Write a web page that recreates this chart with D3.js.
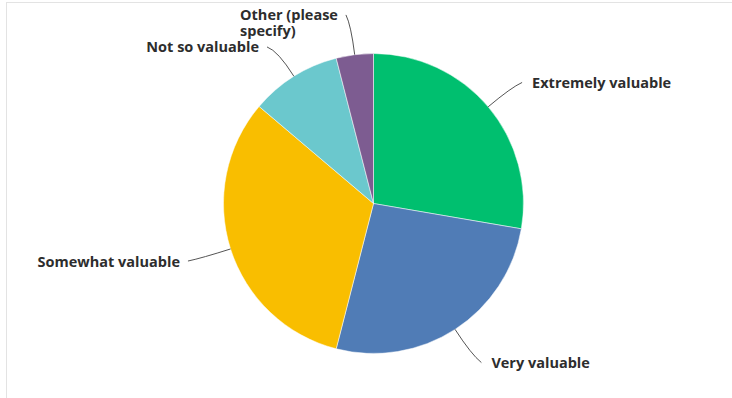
<!DOCTYPE html>
<html>
<head>
<meta charset="utf-8">
<script src="https://cdn.jsdelivr.net/npm/d3@7"></script>
<style>
  body { margin: 0; background: #fff; }
  svg { display: block; }
</style>
</head>
<body>
<svg id="chart" width="732" height="398"></svg>
<script>
// Survey answers, share of respondents (%)
const categories = ["Extremely valuable", "Very valuable", "Somewhat valuable", "Not so valuable", "Other (please specify)"];
const shares = [27.7, 26.3, 32.2, 9.8, 4.0];
const colors = ["#00bf6f", "#507cb6", "#f9be00", "#6bc8cd", "#7d5c91"];
// label text broken into display lines
const labelLines = [["Extremely valuable"], ["Very valuable"], ["Somewhat valuable"], ["Not so valuable"], ["Other (please", "specify)"]];
// where each leader line ends, relative to the guide point just outside the pie
const labelNudge = [[11, -5], [10, 8], [-14, 3], [-11, -4], [-5, -10]];

const width = 732, height = 398;
const cx = 373.5, cy = 203.5, radius = 150, guideRadius = 180;

const svg = d3.select("#chart");

// light frame along the top and left edges
svg.append("line").attr("x1", 6).attr("y1", 2.5).attr("x2", width).attr("y2", 2.5)
  .attr("stroke", "#e3e3e3").attr("stroke-width", 1);
svg.append("line").attr("x1", 6.5).attr("y1", 2).attr("x2", 6.5).attr("y2", height)
  .attr("stroke", "#e3e3e3").attr("stroke-width", 1);

const data = categories.map((c, i) => ({ category: c, value: shares[i], color: colors[i], lines: labelLines[i], nudge: labelNudge[i] }));

const pie = d3.pie().sort(null).value(d => d.value);
const arcs = pie(data);
const arc = d3.arc().innerRadius(0).outerRadius(radius);
const edgeArc = d3.arc().innerRadius(radius).outerRadius(radius);
const guideArc = d3.arc().innerRadius(guideRadius).outerRadius(guideRadius);

const g = svg.append("g").attr("transform", `translate(${cx},${cy})`);

g.selectAll("path.slice")
  .data(arcs)
  .join("path")
  .attr("class", "slice")
  .attr("d", arc)
  .attr("fill", d => d.data.color)
  .attr("stroke", "#fff")
  .attr("stroke-width", 0.5);

// curved leader lines from the slice edge to the label
arcs.forEach(d => {
  const p0 = edgeArc.centroid(d);
  const p1 = guideArc.centroid(d);
  const end = [p1[0] + d.data.nudge[0], p1[1] + d.data.nudge[1]];
  d.end = end;
  const path = d3.path();
  path.moveTo(p0[0], p0[1]);
  path.quadraticCurveTo(p1[0], p1[1], end[0], end[1]);
  g.append("path")
    .attr("d", path.toString())
    .attr("fill", "none")
    .attr("stroke", "#555")
    .attr("stroke-width", 1);
});

// labels
arcs.forEach(d => {
  const right = d.end[0] > 0;
  const t = g.append("text")
    .attr("font-family", "'Open Sans', sans-serif")
    .attr("font-weight", 700)
    .attr("font-size", 14.5)
    .attr("fill", "#2d2d2d");
  d.data.lines.forEach((line, k) => {
    t.append("tspan").attr("x", 0).attr("dy", k === 0 ? 0 : 15.5).text(line);
  });
  const w = t.node().getBBox().width;
  const x = right ? d.end[0] + 10 : d.end[0] - 8 - w;
  t.attr("transform", `translate(${x},${d.end[1] + 5.5})`);
});
</script>
</body>
</html>
